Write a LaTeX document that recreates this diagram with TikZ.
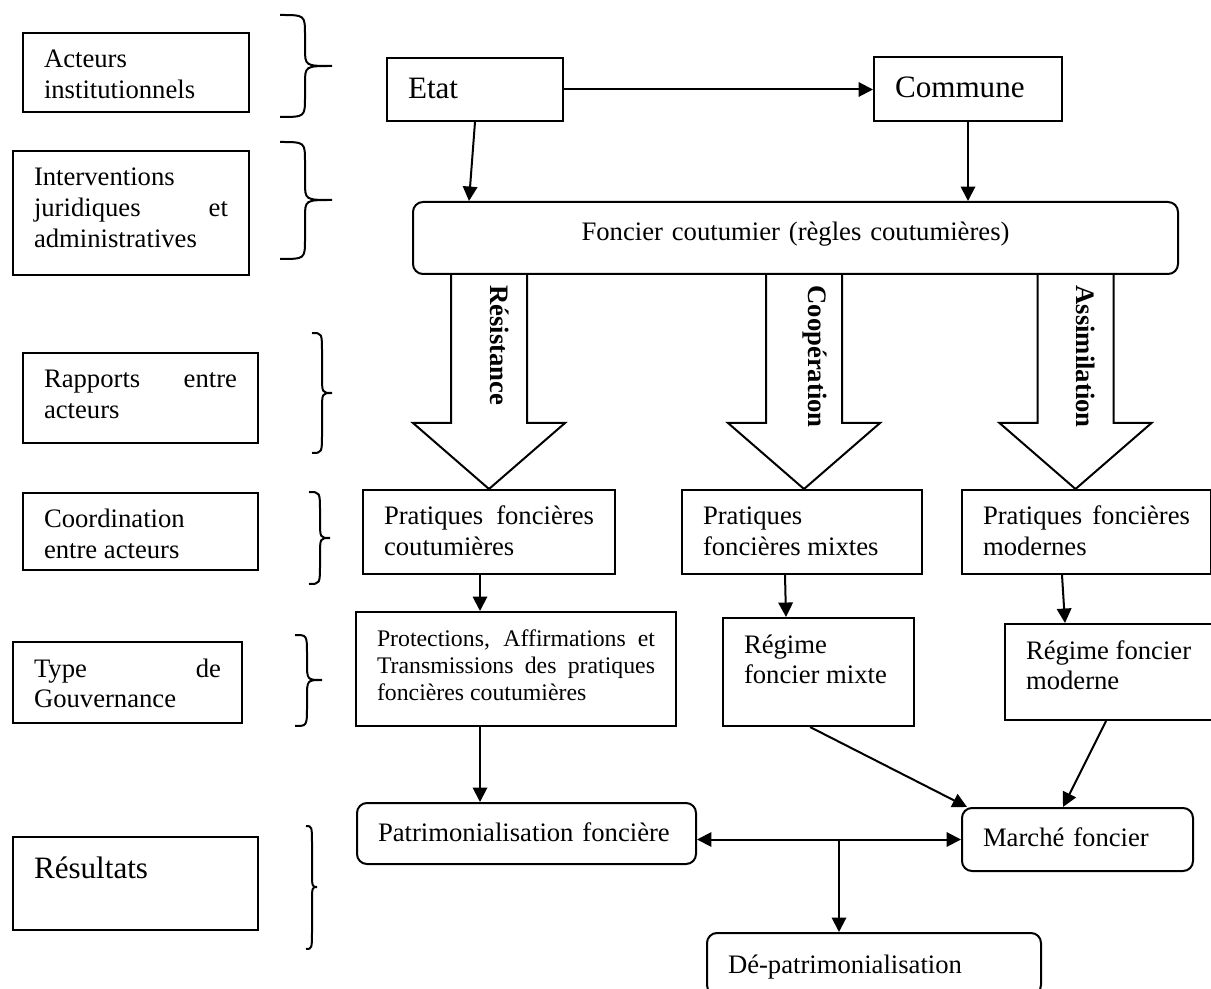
\documentclass[tikz,border=0pt]{standalone}
\usepackage{fontspec}
\setmainfont{Liberation Serif}
\usepackage{tikz}
\usetikzlibrary{calc}
\usetikzlibrary{arrows.meta}

\tolerance=10000
\hbadness=10000

% Accolade : x bout, x trait, x pointe, y haut, y milieu, y bas
\newcommand{\accolade}[6]{\draw[Accolade] (#1,#4) .. controls (#2,#4) .. (#2,#4+20) -- (#2,#5-18) .. controls (#2,#5) .. (#3,#5) .. controls (#2,#5) .. (#2,#5+18) -- (#2,#6-20) .. controls (#2,#6) .. (#1,#6)}

% Grosse fleche du foncier coutumier vers un cadre
\newcommand{\grossefleche}[2]{%
\coordinate (pte) at ($(#1.north)+(#2,0)$);
\coordinate (g1) at ($(pte)+(-38,-66)$);
\coordinate (g2) at ($(pte)+(38,-66)$);
\draw[Bloc] (g1 |- foncier.south) -- (g1) -- ($(pte)+(-76,-66)$) -- (pte) -- ($(pte)+(76,-66)$) -- (g2) -- (g2 |- foncier.south)}

\begin{document}
\begin{tikzpicture}[
x=0.45pt, y=-0.45pt,
Cadre/.style={draw, line width=0.9pt, anchor=north west, inner xsep=9.45pt, inner ysep=0pt, align=justify, font=\fontsize{12}{13.8}\selectfont, text height=15.75pt},
Arrondi/.style={Cadre, rounded corners=4.5pt, align=left, text height=17.1pt},
Grand/.style={font=\fontsize{14}{16}\selectfont, text height=18.45pt, align=left},
Fleche/.style={-{Triangle[length=6.5pt,width=6.5pt]}, line width=0.9pt},
DoubleFleche/.style={{Triangle[length=6.5pt,width=6.5pt]}-{Triangle[length=6.5pt,width=6.5pt]}, line width=0.9pt},
Bloc/.style={line width=0.9pt, line join=miter},
Accolade/.style={line width=0.9pt},
Etiquette/.style={rotate=-90, anchor=west, inner sep=0pt, font=\fontsize{12}{14}\selectfont\bfseries}
]

\useasboundingbox (0,0) rectangle (1211,989);

% colonne de gauche
\node[Cadre, text width=82.8pt, text depth=19.8pt] (acteurs) at (22,32) {Acteurs\\ institutionnels};
\node[Cadre, text width=87.3pt, text depth=40.05pt] (interv) at (12,150) {Interventions\\ juridiques\hfill et\\ administratives};
\node[Cadre, text width=86.85pt, text depth=24.75pt] (rapports) at (22,352) {Rapports\hfill entre\\ acteurs};
\node[Cadre, text width=86.85pt, text depth=18.9pt] (coord) at (22,492) {Coordination\\ entre acteurs};
\node[Cadre, text width=84.15pt, text depth=20.7pt] (gouv) at (12,641) {Type\hfill de\\ Gouvernance};
\node[Cadre, Grand, text width=91.35pt, text depth=23.4pt] (result) at (12,836) {Résultats};

\accolade{280}{305}{332}{15}{66}{117};
\accolade{280}{305}{332}{142}{200}{259};
\accolade{312}{322}{332}{333}{393}{453};
\accolade{309}{320}{330}{492}{538}{584};
\accolade{295}{307}{322}{635}{680}{726};
\accolade{306}{312}{317}{826}{887}{949};

% acteurs
\node[Cadre, Grand, text width=60.3pt, text depth=9.9pt] (etat) at (386,57) {Etat};
\node[Cadre, Grand, text width=65.7pt, text depth=10.35pt] (commune) at (873,56) {Commune};
\node[Arrondi, align=center, text width=325.35pt, text height=17.55pt, text depth=14.85pt] (foncier) at (412,201) {Foncier coutumier (règles coutumières)};

% pratiques
\node[Cadre, text width=94.5pt, text depth=22.05pt] (pcout) at (362,489) {Pratiques foncières\linebreak coutumières};
\node[Cadre, text width=89.1pt, text depth=22.05pt] (pmix) at (681,489) {Pratiques\\ foncières mixtes};
\node[Cadre, text width=93.15pt, text depth=22.05pt] (pmod) at (961,489) {Pratiques foncières\linebreak modernes};

% regimes
\node[Cadre, font=\fontsize{10.7}{12.2}\selectfont, text width=125.1pt, text height=15.3pt, text depth=36pt] (prot) at (355,611) {Protections, Affirmations et\linebreak Transmissions des pratiques\linebreak foncières coutumières};
\node[Cadre, text width=67.05pt, text depth=32.85pt] (rmix) at (722,617) {Régime\\ foncier mixte};
\node[Cadre, text width=78pt, text depth=27.45pt] (rmod) at (1004,623) {Régime foncier\\ moderne};

% resultats
\node[Arrondi, text width=133.65pt, text depth=10.35pt] (patri) at (356,802) {Patrimonialisation foncière};
\node[Arrondi, text width=85.05pt, text depth=11.25pt] (marche) at (961,807) {Marché foncier};
\node[Arrondi, text width=131.4pt, text height=18pt, text depth=9.9pt] (depat) at (706,932) {Dé-patrimonialisation};

% grosses fleches
\grossefleche{pcout}{0};
\grossefleche{pmix}{2};
\grossefleche{pmod}{-11};
\node[Etiquette] (lres) at ($(pcout.north |- foncier.south)+(11,10)$) {Résistance};
\node[Etiquette] (lcoop) at ($(pmix.north |- foncier.south)+(13,10)$) {Coopération};
\node[Etiquette] (lassim) at ($(pmod.north |- foncier.south)+(-1,10)$) {Assimilation};

% fleches
\draw[Fleche] (etat.east) -- (commune.west |- etat.east);
\draw[Fleche] (etat.south) -- ($(foncier.north west)+(57,0)$);
\draw[Fleche] (commune.south) -- (commune.south |- foncier.north);
\draw[Fleche] ($(pcout.south west)+(118,0)$) coordinate (d1) -- (d1 |- prot.north);
\draw[Fleche] ($(pmix.south west)+(104,0)$) -- ($(rmix.north west)+(64,0)$);
\draw[Fleche] ($(pmod.south west)+(101,0)$) -- ($(rmod.north west)+(61,0)$);
\draw[Fleche] ($(prot.south west)+(125,0)$) coordinate (d2) -- (d2 |- patri.north);
\draw[Fleche] ($(rmix.south west)+(88,0)$) -- ($(marche.north west)+(6,0)$);
\draw[Fleche] ($(rmod.south west)+(102,0)$) -- ($(marche.north west)+(102,0)$);
\draw[DoubleFleche] (patri.east |- marche.west) -- (marche.west);
\coordinate (jonction) at ($(patri.east |- marche.west)+(142,0)$);
\draw[Fleche] (jonction) -- (jonction |- depat.north);

\end{tikzpicture}
\end{document}
